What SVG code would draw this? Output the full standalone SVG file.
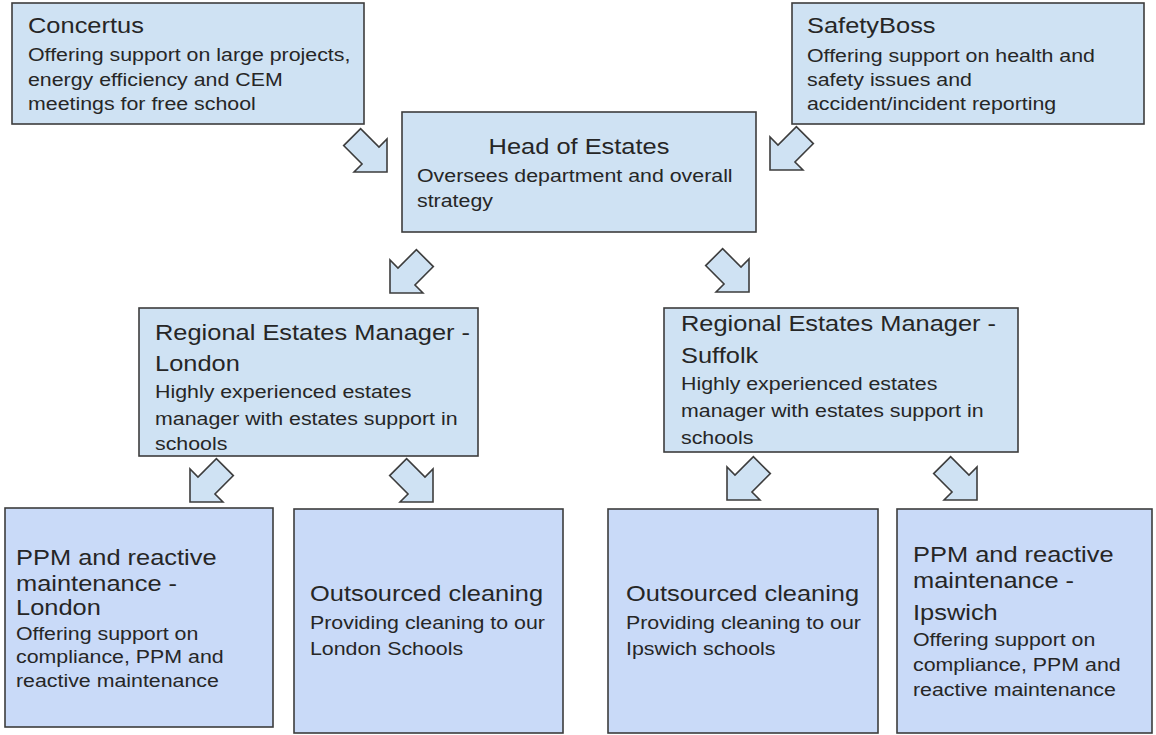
<svg xmlns="http://www.w3.org/2000/svg" width="1156" height="735" viewBox="0 0 1156 735">
<style>
.top{fill:#cfe2f3;stroke:#3d3d3d;stroke-width:1.6}
.bot{fill:#c9daf8;stroke:#3d3d3d;stroke-width:1.6}
.arrow{fill:#cfe2f3;stroke:#3d3d3d;stroke-width:1.6;stroke-linejoin:miter}
text{font-family:"Liberation Sans",Arial,sans-serif;fill:#262626;transform-box:fill-box;transform-origin:0 50%;transform:scale(1.13,1)}
.c{transform-origin:50% 50%}
.t{font-size:22.5px}
.b{font-size:18.9px}
</style>
<rect width="1156" height="735" fill="#ffffff"/>
<g id="concertus">
<rect class="top" x="12" y="3" width="352" height="121"/>
<text class="t" x="28" y="33">Concertus</text>
<text class="b" x="28" y="61">Offering support on large projects,</text>
<text class="b" x="28" y="86">energy efficiency and CEM</text>
<text class="b" x="28" y="110">meetings for free school</text>
</g>
<g id="safetyboss">
<rect class="top" x="792" y="3" width="352" height="121"/>
<text class="t" x="807" y="33">SafetyBoss</text>
<text class="b" x="807" y="62">Offering support on health and</text>
<text class="b" x="807" y="86">safety issues and</text>
<text class="b" x="807" y="110">accident/incident reporting</text>
</g>
<g id="head">
<rect class="top" x="402" y="112" width="354" height="120"/>
<text class="t c" x="579" y="154" text-anchor="middle">Head of Estates</text>
<text class="b" x="417" y="182">Oversees department and overall</text>
<text class="b" x="417" y="207">strategy</text>
</g>
<g id="rem-london">
<rect class="top" x="139" y="308" width="339" height="148"/>
<text class="t" x="155" y="340">Regional Estates Manager -</text>
<text class="t" x="155" y="371">London</text>
<text class="b" x="155" y="398">Highly experienced estates</text>
<text class="b" x="155" y="425">manager with estates support in</text>
<text class="b" x="155" y="450">schools</text>
</g>
<g id="rem-suffolk">
<rect class="top" x="664" y="308" width="354" height="144"/>
<text class="t" x="681" y="331">Regional Estates Manager -</text>
<text class="t" x="681" y="363">Suffolk</text>
<text class="b" x="681" y="390">Highly experienced estates</text>
<text class="b" x="681" y="417">manager with estates support in</text>
<text class="b" x="681" y="444">schools</text>
</g>
<g id="ppm-london">
<rect class="bot" x="5" y="508" width="268" height="219"/>
<text class="t" x="16" y="565">PPM and reactive</text>
<text class="t" x="16" y="591">maintenance -</text>
<text class="t" x="16" y="615">London</text>
<text class="b" x="16" y="640">Offering support on</text>
<text class="b" x="16" y="663">compliance, PPM and</text>
<text class="b" x="16" y="687">reactive maintenance</text>
</g>
<g id="cleaning-london">
<rect class="bot" x="294" y="509" width="269" height="224"/>
<text class="t" x="310" y="601">Outsourced cleaning</text>
<text class="b" x="310" y="629">Providing cleaning to our</text>
<text class="b" x="310" y="655">London Schools</text>
</g>
<g id="cleaning-ipswich">
<rect class="bot" x="608" y="509" width="270" height="224"/>
<text class="t" x="626" y="601">Outsourced cleaning</text>
<text class="b" x="626" y="629">Providing cleaning to our</text>
<text class="b" x="626" y="655">Ipswich schools</text>
</g>
<g id="ppm-ipswich">
<rect class="bot" x="897" y="509" width="255" height="224"/>
<text class="t" x="913" y="562">PPM and reactive</text>
<text class="t" x="913" y="588">maintenance -</text>
<text class="t" x="913" y="620">Ipswich</text>
<text class="b" x="913" y="646">Offering support on</text>
<text class="b" x="913" y="671">compliance, PPM and</text>
<text class="b" x="913" y="696">reactive maintenance</text>
</g>
<g id="connectors">
<polygon class="arrow" transform="translate(387,172) rotate(-45)" points="0,0 23.3,-23.3 12,-23.3 12,-49.3 -12,-49.3 -12,-23.3 -23.3,-23.3"/>
<polygon class="arrow" transform="translate(770,170) rotate(45)" points="0,0 23.3,-23.3 12,-23.3 12,-49.3 -12,-49.3 -12,-23.3 -23.3,-23.3"/>
<polygon class="arrow" transform="translate(390,293) rotate(45)" points="0,0 23.3,-23.3 12,-23.3 12,-49.3 -12,-49.3 -12,-23.3 -23.3,-23.3"/>
<polygon class="arrow" transform="translate(749,292) rotate(-45)" points="0,0 23.3,-23.3 12,-23.3 12,-49.3 -12,-49.3 -12,-23.3 -23.3,-23.3"/>
<polygon class="arrow" transform="translate(190,502) rotate(45)" points="0,0 23.3,-23.3 12,-23.3 12,-49.3 -12,-49.3 -12,-23.3 -23.3,-23.3"/>
<polygon class="arrow" transform="translate(433,502) rotate(-45)" points="0,0 23.3,-23.3 12,-23.3 12,-49.3 -12,-49.3 -12,-23.3 -23.3,-23.3"/>
<polygon class="arrow" transform="translate(727,500) rotate(45)" points="0,0 23.3,-23.3 12,-23.3 12,-49.3 -12,-49.3 -12,-23.3 -23.3,-23.3"/>
<polygon class="arrow" transform="translate(977,500) rotate(-45)" points="0,0 23.3,-23.3 12,-23.3 12,-49.3 -12,-49.3 -12,-23.3 -23.3,-23.3"/>
</g>
</svg>
